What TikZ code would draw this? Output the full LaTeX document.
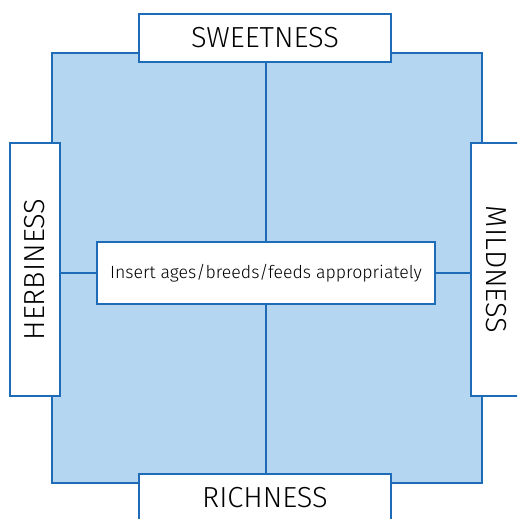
\documentclass[tikz,border=0pt]{standalone}
\usepackage{fontspec}
\setmainfont{Fira Sans Light}
\usepackage{graphicx}
\definecolor{sqfill}{HTML}{B4D6F0}
\definecolor{edge}{HTML}{1E6BB8}
\begin{document}
\begin{tikzpicture}[x=1pt,y=-1pt,
  box/.style={draw=edge,fill=white,line width=1.8pt,inner sep=0pt},
  link/.style={draw=edge,line width=1.4pt},
  lab/.style={font=\fontsize{29}{32}\selectfont}]
\useasboundingbox (0,0) rectangle (517,519);
\clip (0,0) rectangle (517,519);
\fill[sqfill] (52,53) rectangle (482,483);
\draw[link] (52,53) rectangle (482,483);
\node[box,lab,minimum width=252pt,minimum height=48pt] (top) at (265,38) {SWEETNESS};
\node[box,lab,minimum width=252pt,minimum height=48pt] (bot) at (265,498) {RICHNESS};
\node[box,lab,minimum width=50pt,minimum height=253pt] (left) at (35,269.5) {\rotatebox{90}{HERBINESS}};
\node[box,lab,minimum width=50pt,minimum height=253pt] (right) at (496,269.5) {\rotatebox{-90}{MILDNESS}};
\node[box,font=\fontsize{17.7}{20}\selectfont,minimum width=338pt,minimum height=62pt] (mid) at (266,273) {Insert ages/breeds/feeds appropriately};
\draw[link] (top.south -| mid.north) -- (mid.north);
\draw[link] (mid.south) -- (bot.north -| mid.south);
\draw[link] (left.east |- mid.west) -- (mid.west);
\draw[link] (mid.east) -- (right.west |- mid.east);
\end{tikzpicture}
\end{document}
